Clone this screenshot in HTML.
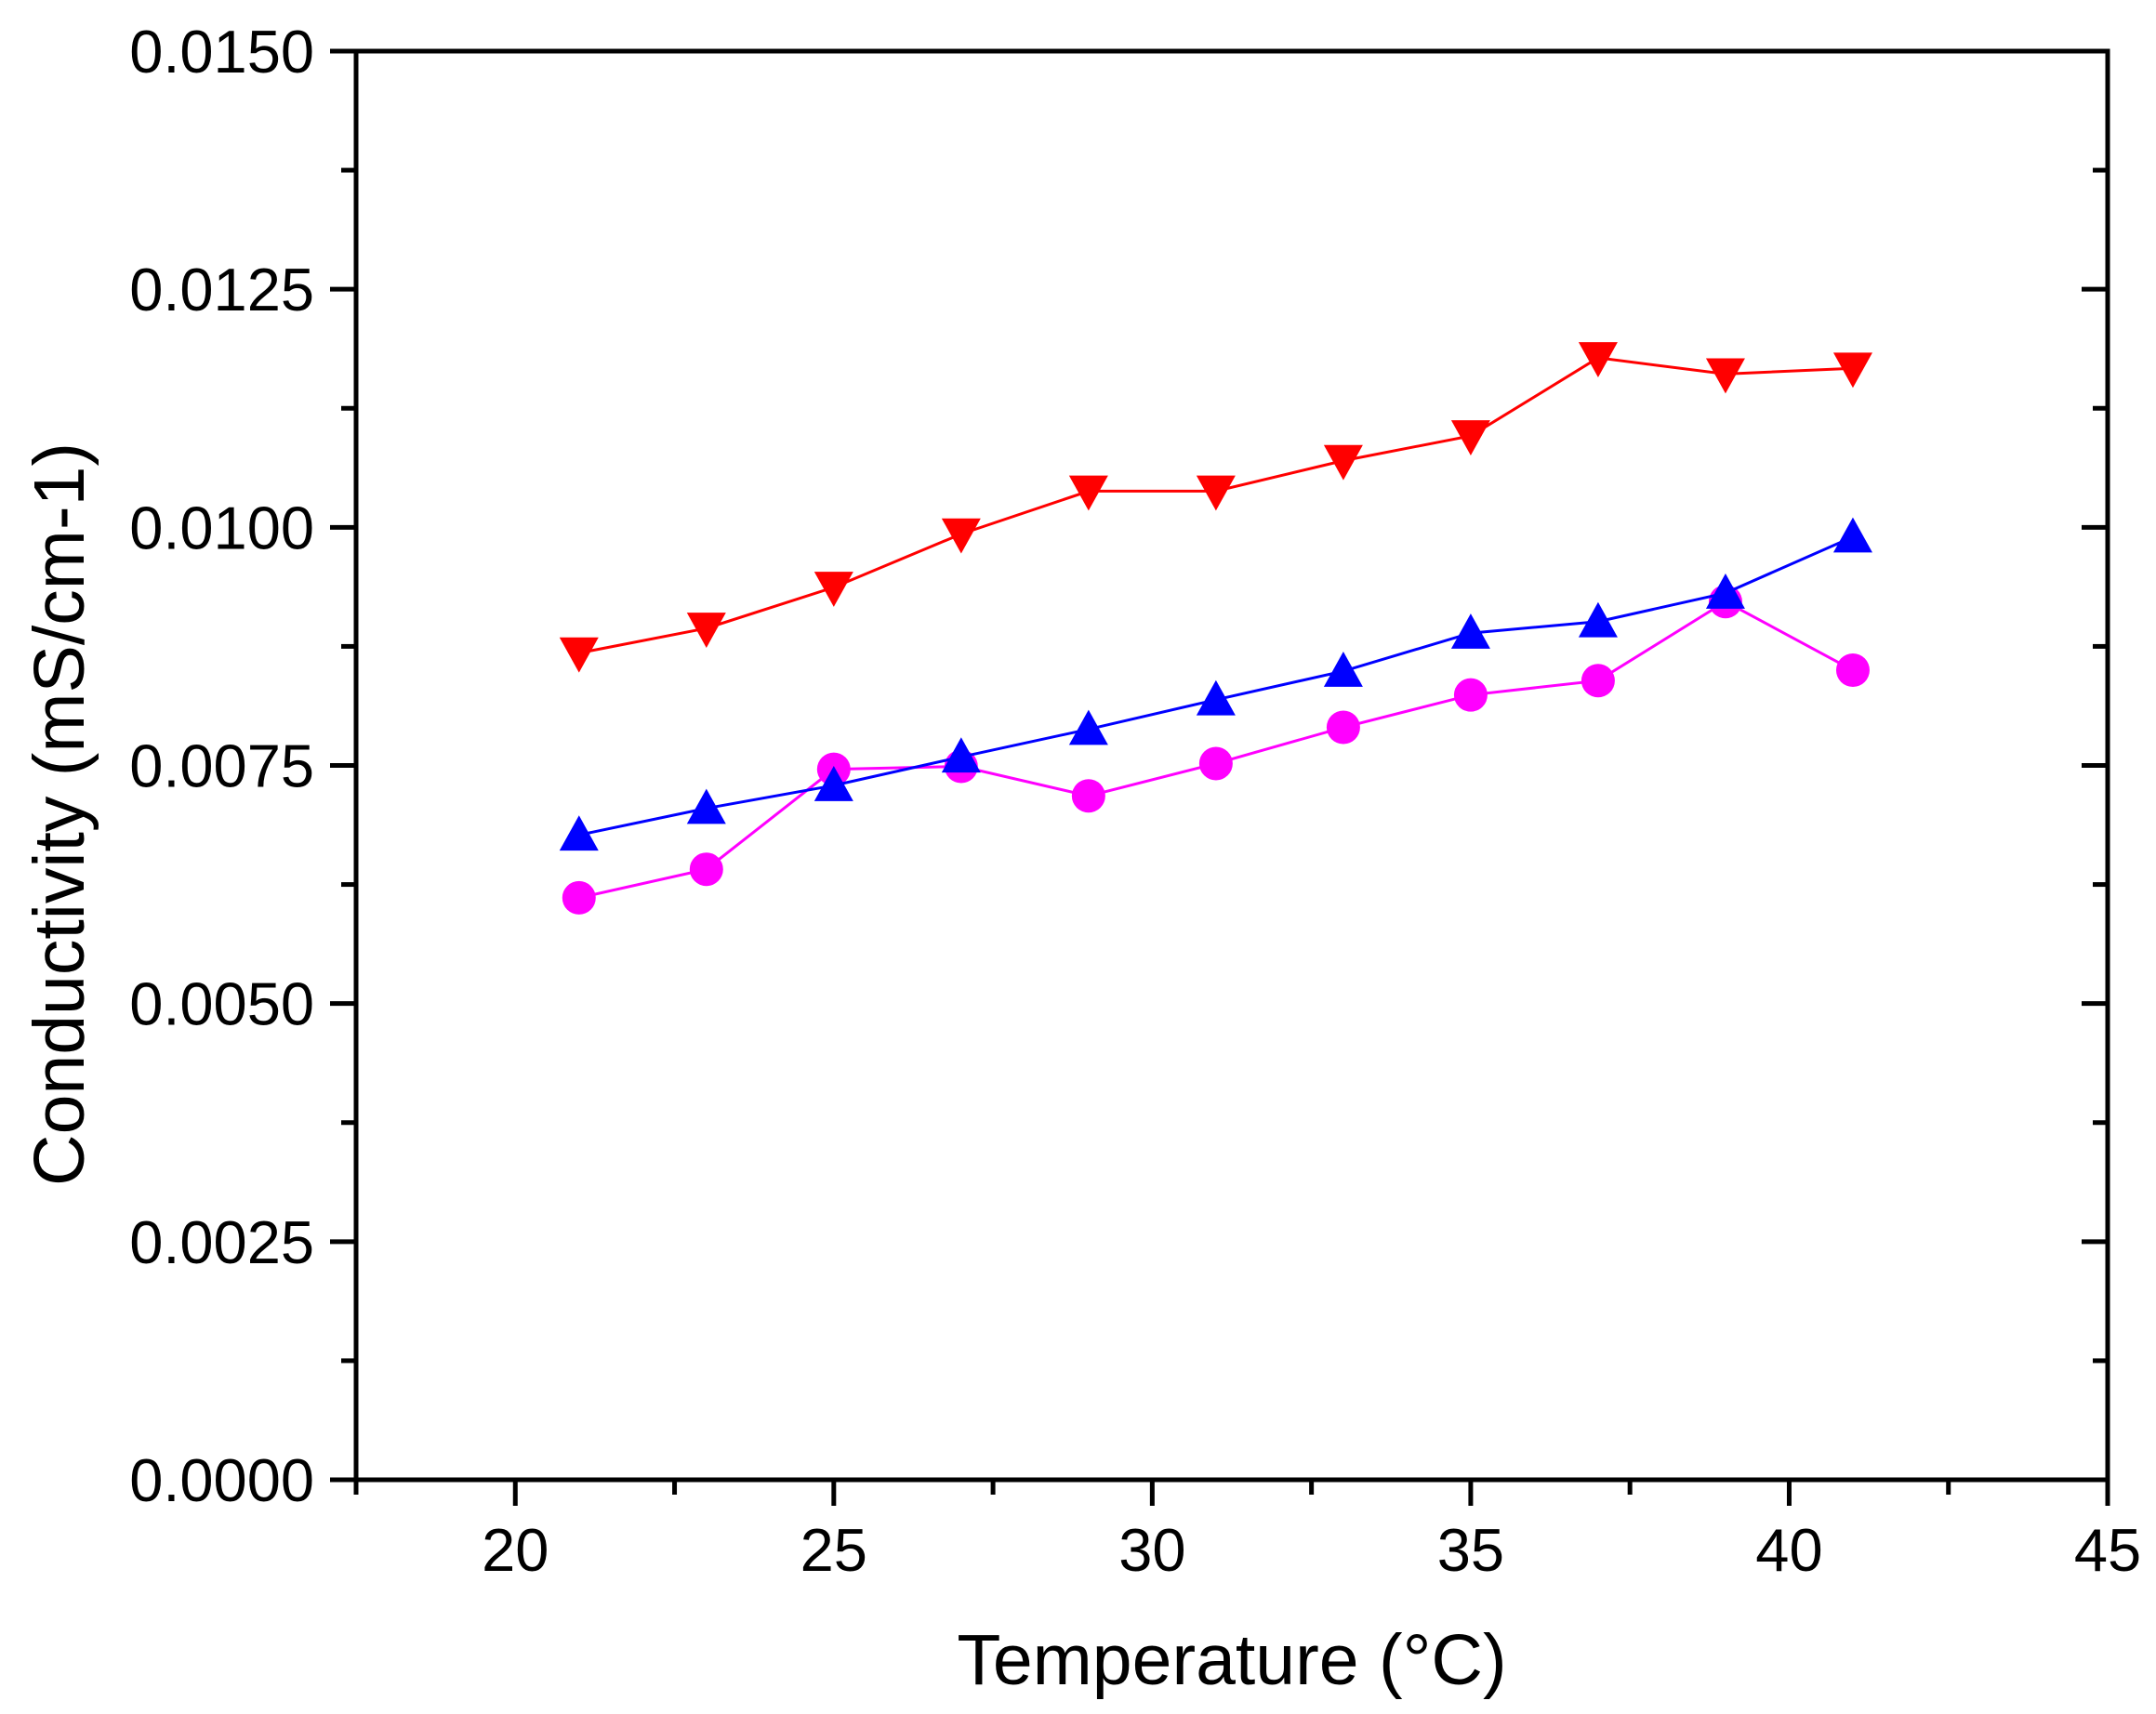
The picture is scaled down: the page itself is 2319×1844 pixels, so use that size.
<!DOCTYPE html>
<html><head><meta charset="utf-8"><style>html,body{margin:0;padding:0;background:#fff}svg{display:block}</style></head>
<body>
<svg id="chart" width="2319" height="1844" xmlns="http://www.w3.org/2000/svg" font-family="Liberation Sans, Arial, sans-serif">
<g id="axes"></g>
<g id="series"></g>
<text x="1325" y="1812" font-size="77" text-anchor="middle">Temperature (°C)</text>
<text transform="translate(90,876) rotate(-90)" font-size="77" text-anchor="middle">Conductivity (mS/cm-1)</text>
</svg>
<script>
const temps=[21,23,25,27,29,31,33,35,37,39,41];
const redVals=[0.00868,0.00894,0.00937,0.00993,0.01038,0.01038,0.0107,0.01096,0.01178,0.01161,0.01167];
const blueVals=[0.00677,0.00705,0.00729,0.00759,0.00788,0.00819,0.00849,0.00889,0.00901,0.00931,0.0099];
const magentaVals=[0.00611,0.00641,0.00746,0.00749,0.00718,0.00752,0.0079,0.00824,0.00839,0.00922,0.0085];
const xTicks=[20,25,30,35,40,45];
const yTicks=["0.0000","0.0025","0.0050","0.0075","0.0100","0.0125","0.0150"];

const L=383,R=2267,T=55,B=1592,xMin=17.5,xMax=45,yMin=0,yMax=0.015;
const xs=v=>L+(v-xMin)/(xMax-xMin)*(R-L);
const ys=v=>B-(v-yMin)/(yMax-yMin)*(B-T);
const NS="http://www.w3.org/2000/svg";
function mk(tag,attrs,parent){const e=document.createElementNS(NS,tag);for(const k in attrs)e.setAttribute(k,attrs[k]);parent.appendChild(e);return e;}
const ax=document.getElementById('axes');
let e=mk('rect',{x:L,y:T,width:R-L,height:B-T,fill:'none',stroke:'#000','stroke-width':5},ax);


for(let v=17.5;v<=45.001;v+=2.5){
  const major=Math.abs(v%5)<1e-6;const x=xs(v);
  e=mk('line',{x1:x,x2:x,y1:B,y2:B+(major?28:16),stroke:'#000','stroke-width':5},ax);
  
  
}
xTicks.forEach(t=>{
  e=mk('text',{x:xs(t),y:1690,'font-size':65,'text-anchor':'middle'},ax);e.textContent=t;
  
  
});
for(let i=0;i<=12;i++){
  const v=i*0.00125;const y=ys(v);const major=i%2==0;const len=major?28:16;
  e=mk('line',{x1:L-len,x2:L,y1:y,y2:y,stroke:'#000','stroke-width':5},ax);
  
  
  e=mk('line',{x1:R-len,x2:R,y1:y,y2:y,stroke:'#000','stroke-width':5},ax);
  
  
}
yTicks.forEach(t=>{
  e=mk('text',{x:338,y:ys(parseFloat(t))+23,'font-size':65,'text-anchor':'end'},ax);e.textContent=t;
  
  
});
const sg=document.getElementById('series');
function series(vals,color,shape,name){
  const g=mk('g',{},sg);
  
  
  const pts=temps.map((t,i)=>xs(t)+','+ys(vals[i])).join(' ');
  e=mk('polyline',{points:pts,fill:'none',stroke:color,'stroke-width':3},g);
  
  
  temps.forEach((t,i)=>{
    const x=xs(t),y=ys(vals[i]);const s=21;
    if(shape=='circle')e=mk('circle',{cx:x,cy:y,r:18,fill:color},g);
    else if(shape=='up')e=mk('polygon',{points:`${x},${y-s} ${x-s},${y+s*0.8} ${x+s},${y+s*0.8}`,fill:color},g);
    else e=mk('polygon',{points:`${x},${y+s} ${x-s},${y-s*0.8} ${x+s},${y-s*0.8}`,fill:color},g);
    
    
  });
}
series(redVals,'#ff0000','down','red');
series(magentaVals,'#ff00ff','circle','magenta');
series(blueVals,'#0000ff','up','blue');
</script>
</body></html>
